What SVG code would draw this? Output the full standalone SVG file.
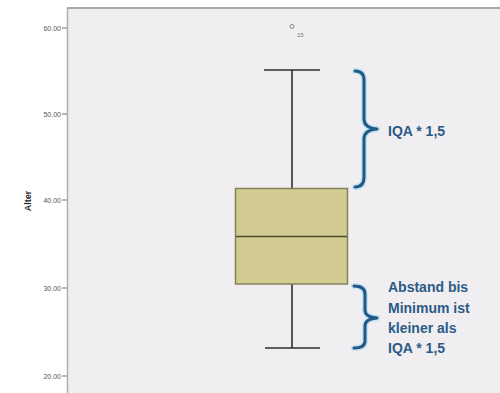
<svg xmlns="http://www.w3.org/2000/svg" width="500" height="393" viewBox="0 0 500 393">
<style>
.tick{font-family:"Liberation Sans",Arial,sans-serif;font-size:7px;fill:#555;text-anchor:end}
.ann{font-family:"Liberation Sans",Arial,sans-serif;font-size:14px;font-weight:bold;fill:#2b5b86}
.brace{fill:none;stroke:#1f5a87;stroke-width:3;stroke-linecap:round;stroke-linejoin:round}
.glow{fill:none;stroke:#9fd6ee;stroke-width:6;stroke-linecap:round;stroke-linejoin:round;opacity:0.5}
.wh{stroke:#2e2e2e;stroke-width:1.6}
</style>
<rect x="0" y="0" width="500" height="393" fill="#ffffff"/>
<g id="plot-area">
<rect x="68" y="8" width="432" height="385" fill="#f0eef0"/>
<line x1="67" y1="8" x2="500" y2="8" stroke="#a9a9a9" stroke-width="2"/>
<line x1="67.5" y1="8" x2="67.5" y2="393" stroke="#b0b0b0" stroke-width="1.5"/>
</g>
<g id="axis">
<g stroke="#777" stroke-width="1">
<line x1="62" y1="28" x2="67" y2="28"/>
<line x1="62" y1="114" x2="67" y2="114"/>
<line x1="62" y1="200" x2="67" y2="200"/>
<line x1="62" y1="288" x2="67" y2="288"/>
<line x1="62" y1="376" x2="67" y2="376"/>
</g>
<text class="tick" x="61" y="30.5">60.00</text>
<text class="tick" x="61" y="116.5">50.00</text>
<text class="tick" x="61" y="202.5">40.00</text>
<text class="tick" x="61" y="290.5">30.00</text>
<text class="tick" x="61" y="378.5">20.00</text>
<text x="31" y="201" transform="rotate(-90 31 201)" text-anchor="middle" font-family="'Liberation Sans',Arial,sans-serif" font-size="9" font-weight="bold" fill="#222">Alter</text>
</g>
<g id="boxplot">
<line class="wh" x1="292" y1="70" x2="292" y2="188"/>
<line class="wh" x1="264" y1="70" x2="320" y2="70"/>
<line class="wh" x1="292" y1="284" x2="292" y2="348"/>
<line class="wh" x1="265" y1="348" x2="320" y2="348"/>
<rect x="235.5" y="188.5" width="112" height="95.5" fill="#d2cc92" stroke="#85815a" stroke-width="1.5"/>
<line x1="236" y1="236.5" x2="347" y2="236.5" stroke="#4d4b2c" stroke-width="1.6"/>
</g>
<g id="outlier">
<circle cx="292" cy="26.5" r="2" fill="none" stroke="#888" stroke-width="1"/>
<text x="297" y="37" font-family="'Liberation Sans',Arial,sans-serif" font-size="6" fill="#777">15</text>
</g>
<g id="connectors">
<path class="glow" d="M355,71 Q364,71 364,80 L364,119 Q364,128 377,129 Q364,130 364,139 L364,177 Q364,187 355,187"/>
<path class="brace" d="M355,71 Q364,71 364,80 L364,119 Q364,128 377,129 Q364,130 364,139 L364,177 Q364,187 355,187"/>
<path class="glow" d="M354,286 Q365,286 365,294 L365,310 Q365,317 377,318 Q365,319 365,326 L365,341 Q365,348 354,348"/>
<path class="brace" d="M354,286 Q365,286 365,294 L365,310 Q365,317 377,318 Q365,319 365,326 L365,341 Q365,348 354,348"/>
</g>
<g id="label-upper">
<text class="ann" x="388" y="136">IQA * 1,5</text>
</g>
<g id="label-lower">
<text class="ann" x="388" y="292">Abstand bis</text>
<text class="ann" x="388" y="313">Minimum ist</text>
<text class="ann" x="388" y="333">kleiner als</text>
<text class="ann" x="388" y="353">IQA * 1,5</text>
</g>
</svg>
